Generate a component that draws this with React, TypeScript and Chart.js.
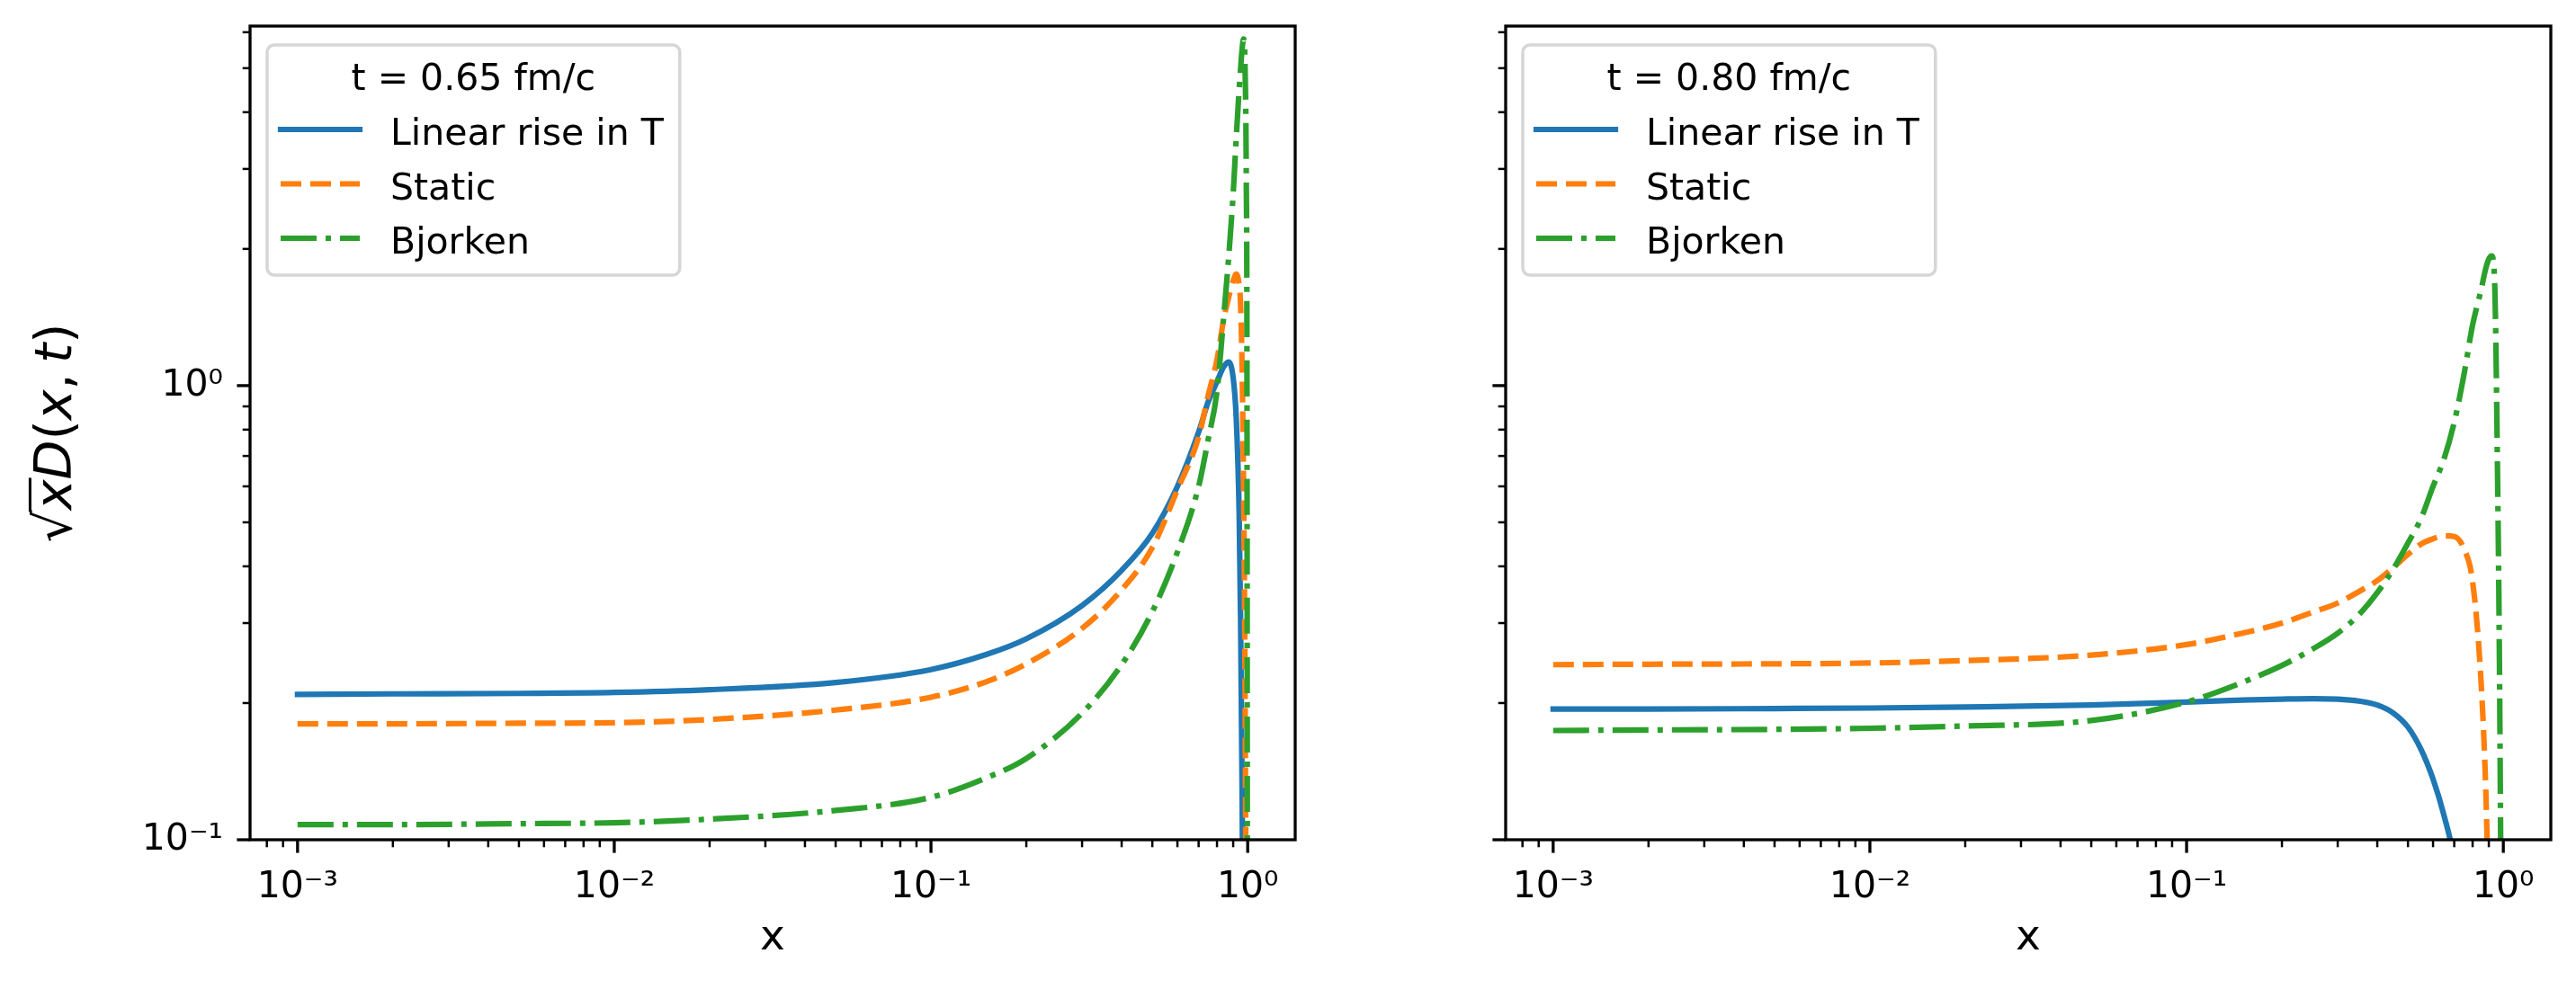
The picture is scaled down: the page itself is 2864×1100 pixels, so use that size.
import React, { useEffect, useRef } from "react";
import Chart from "chart.js/auto";

Chart.defaults.font.family = "'DejaVu Sans', sans-serif";
Chart.defaults.color = "#000";

// ---- data ----
const seriesLabels = ["Linear rise in T", "Static", "Bjorken"];
const legendTitles = ["t = 0.65 fm/c", "t = 0.80 fm/c"];

const xLeft = [0.001, 0.002, 0.005, 0.01, 0.02, 0.05, 0.1, 0.15, 0.2, 0.3, 0.4, 0.5, 0.6, 0.7, 0.75, 0.8, 0.84, 0.87, 0.9, 0.92, 0.94, 0.95, 0.96, 0.97, 0.98, 0.99, 0.995, 0.998];
const linearLeft = [0.209, 0.2095, 0.21, 0.211, 0.214, 0.222, 0.237, 0.256, 0.277, 0.328, 0.392, 0.473, 0.6, 0.79, 0.92, 1.02, 1.1, 1.127, 1.04, 0.85, 0.52, 0.3, 0.13, 0.04, null, null, null, null];
const staticLeft = [0.18, 0.18, 0.1805, 0.181, 0.184, 0.193, 0.206, 0.223, 0.244, 0.292, 0.355, 0.44, 0.59, 0.77, 0.95, 1.14, 1.4, 1.56, 1.7, 1.76, 1.66, 1.5, 1.1, 0.62, 0.25, 0.05, null, null];
const bjorkenLeft = [0.108, 0.108, 0.1085, 0.109, 0.111, 0.116, 0.124, 0.137, 0.151, 0.19, 0.243, 0.318, 0.43, 0.6, 0.76, 0.97, 1.42, 1.9, 2.65, 3.5, 4.5, 5.0, 5.5, 5.8, 5.2, 2.8, 1.0, 0.05];

const xRight = [0.001, 0.002, 0.005, 0.01, 0.02, 0.05, 0.1, 0.15, 0.2, 0.25, 0.3, 0.35, 0.4, 0.45, 0.5, 0.55, 0.6, 0.65, 0.7, 0.75, 0.8, 0.85, 0.88, 0.9, 0.92, 0.94, 0.96, 0.97, 0.98, 0.99];
const linearRight = [0.194, 0.194, 0.1945, 0.195, 0.196, 0.198, 0.201, 0.203, 0.204, 0.2045, 0.204, 0.202, 0.198, 0.19, 0.177, 0.158, 0.136, 0.113, 0.09, 0.06, null, null, null, null, null, null, null, null, null, null];
const staticRight = [0.243, 0.2435, 0.244, 0.245, 0.248, 0.255, 0.269, 0.285, 0.3, 0.317, 0.332, 0.352, 0.372, 0.398, 0.425, 0.448, 0.46, 0.467, 0.465, 0.438, 0.37, 0.225, 0.13, 0.07, null, null, null, null, null, null];
const bjorkenRight = [0.174, 0.1745, 0.175, 0.176, 0.178, 0.183, 0.201, 0.222, 0.242, 0.263, 0.285, 0.313, 0.35, 0.395, 0.45, 0.51, 0.6, 0.69, 0.83, 1.05, 1.36, 1.62, 1.81, 1.9, 1.93, 1.65, 0.6, 0.3, 0.11, 0.03];

const xTickValues = [0.001, 0.01, 0.1, 1];
const xTickLabels = ["10⁻³", "10⁻²", "10⁻¹", "10⁰"];
const yTickValues = [0.1, 1];
const yTickLabels = ["10⁻¹", "10⁰"];

const colors = ["#1f77b4", "#ff7f0e", "#2ca02c"];
const dashes = [[], [23, 10], [40, 10, 6, 10]];

const X_MIN = Math.pow(10, -3.15);
const X_MAX = Math.pow(10, 0.15);
const Y_MIN = 0.1;
const Y_MAX = 6.19;

const logTicks = (min: number, max: number) => {
  const out: any[] = [];
  for (let e = Math.floor(Math.log10(min)); e <= Math.ceil(Math.log10(max)); e++) {
    for (let m = 1; m < 10; m++) {
      const v = m * Math.pow(10, e);
      if (v >= min * 0.9999 && v <= max * 1.0001) out.push({ value: v, major: m === 1 });
    }
  }
  return out;
};

const labelFor = (value: number, vals: number[], labels: string[]) => {
  const i = vals.findIndex((v) => Math.abs(Math.log10(v) - Math.log10(value)) < 1e-6);
  return i >= 0 ? labels[i] : "";
};

// spines and matplotlib-like major/minor ticks
const mplFrame = {
  id: "mplFrame",
  afterDraw(chart: any) {
    const { ctx, chartArea: a, scales } = chart;
    ctx.save();
    ctx.strokeStyle = "#000";
    for (const t of scales.x.ticks) {
      const px = scales.x.getPixelForValue(t.value);
      ctx.lineWidth = t.major ? 3.3 : 2.5;
      ctx.beginPath();
      ctx.moveTo(px, a.bottom);
      ctx.lineTo(px, a.bottom + (t.major ? 14.6 : 8.3));
      ctx.stroke();
    }
    for (const t of scales.y.ticks) {
      const py = scales.y.getPixelForValue(t.value);
      ctx.lineWidth = t.major ? 3.3 : 2.5;
      ctx.beginPath();
      ctx.moveTo(a.left, py);
      ctx.lineTo(a.left - (t.major ? 14.6 : 8.3), py);
      ctx.stroke();
    }
    ctx.lineWidth = 3.3;
    ctx.strokeRect(a.left, a.top, a.right - a.left, a.bottom - a.top);
    ctx.restore();
  },
};

const mplLegend = {
  id: "mplLegend",
  afterDraw(chart: any, _args: any, opts: any) {
    const { ctx, chartArea: a } = chart;
    const fs = 41;
    ctx.save();
    ctx.font = `${fs}px 'DejaVu Sans'`;
    const items = chart.data.datasets;
    const textW = Math.max(...items.map((d: any) => ctx.measureText(d.label).width));
    const titleW = ctx.measureText(opts.title).width;
    const left = a.left + 19;
    const top = a.top + 21;
    const w = Math.max(137 + textW + 18, titleW + 36);
    const h = 256;
    ctx.beginPath();
    ctx.roundRect(left, top, w, h, 8);
    ctx.fillStyle = "rgba(255,255,255,0.8)";
    ctx.fill();
    ctx.lineWidth = 3.5;
    ctx.strokeStyle = "rgba(204,204,204,0.8)";
    ctx.stroke();

    ctx.fillStyle = "#000";
    ctx.textBaseline = "alphabetic";
    ctx.textAlign = "center";
    ctx.fillText(opts.title, left + w / 2, top + 50);
    items.forEach((d: any, i: number) => {
      const base = top + 111 + i * 60.5;
      const ly = base - 17;
      ctx.save();
      ctx.strokeStyle = d.borderColor;
      ctx.lineWidth = d.borderWidth;
      ctx.setLineDash(d.borderDash || []);
      ctx.lineCap = d.borderDash && d.borderDash.length ? "butt" : "square";
      ctx.beginPath();
      ctx.moveTo(left + 15, ly);
      ctx.lineTo(left + 103, ly);
      ctx.stroke();
      ctx.restore();
      ctx.textAlign = "left";
      ctx.fillText(d.label, left + 137, base);
    });
    ctx.restore();
  },
};

// sqrt(x) D(x, t) label, drawn piece by piece for the italics and the radical bar
const mplYLabel = {
  id: "mplYLabel",
  afterDraw(chart: any, _args: any, opts: any) {
    if (!opts.show) return;
    const { ctx, chartArea: a } = chart;
    const fs = 57;
    const parts: [string, boolean][] = [["√", false], ["x", true], ["D", true], ["(", false], ["x", true], [",", false], ["\u2009", false], ["t", true], [")", false]];
    const fontOf = (it: boolean) => `${it ? "italic " : ""}${fs}px 'DejaVu Sans'`;
    ctx.save();
    ctx.translate(79, (a.top + a.bottom) / 2);
    ctx.rotate(-Math.PI / 2);
    ctx.fillStyle = "#000";
    ctx.strokeStyle = "#000";
    ctx.textBaseline = "alphabetic";
    ctx.textAlign = "left";
    const widths = parts.map(([t, it]) => {
      ctx.font = fontOf(it);
      return ctx.measureText(t).width;
    });
    const total = widths.reduce((s, v) => s + v, 0);
    let x = -total / 2;
    parts.forEach(([t, it], i) => {
      ctx.font = fontOf(it);
      ctx.fillText(t, x, 0);
      if (i === 1) {
        ctx.lineWidth = 3;
        ctx.beginPath();
        ctx.moveTo(x - 2, -0.8 * fs);
        ctx.lineTo(x + widths[i] + 2, -0.8 * fs);
        ctx.stroke();
      }
      x += widths[i];
    });
    ctx.restore();
  },
};

const makeConfig = (xs: number[], ys: (number | null)[][], title: string, yWidth: number, padRight: number, first: boolean): any => ({
  type: "line",
  data: {
    datasets: ys.map((vals, k) => ({
      label: seriesLabels[k],
      data: xs.map((x, i) => ({ x, y: vals[i] })),
      borderColor: colors[k],
      borderWidth: 6.2,
      borderDash: dashes[k],
      borderCapStyle: dashes[k].length ? "butt" : "square",
      borderJoinStyle: "round",
      pointRadius: 0,
      fill: false,
      cubicInterpolationMode: "monotone",
      clip: 0,
      order: 3 - k,
    })),
  },
  options: {
    animation: false,
    responsive: true,
    maintainAspectRatio: false,
    layout: { padding: { top: 29, right: padRight, left: 0, bottom: 0 } },
    plugins: {
      legend: { display: false },
      tooltip: { enabled: false },
      mplLegend: { title },
      mplYLabel: { show: first },
    },
    scales: {
      x: {
        type: "logarithmic",
        min: X_MIN,
        max: X_MAX,
        bounds: "data",
        afterBuildTicks: (s: any) => {
          s.ticks = logTicks(X_MIN, X_MAX);
        },
        afterFit: (s: any) => {
          s.height = 166;
          s.paddingLeft = 0;
          s.paddingRight = 0;
        },
        grid: { display: true, drawOnChartArea: false, drawTicks: true, tickLength: 15, color: "rgba(0,0,0,0)" },
        border: { display: false },
        ticks: {
          autoSkip: false,
          maxRotation: 0,
          minRotation: 0,
          padding: 14,
          color: "#000",
          font: { size: 41 },
          callback: (v: number, i: number, t: any[]) => (t[i].major ? labelFor(v, xTickValues, xTickLabels) : ""),
        },
        title: { display: true, text: "x", color: "#000", font: { size: 47 }, padding: { top: 0, bottom: 28 } },
      },
      y: {
        type: "logarithmic",
        min: Y_MIN,
        max: Y_MAX,
        bounds: "data",
        afterBuildTicks: (s: any) => {
          s.ticks = logTicks(Y_MIN, Y_MAX);
        },
        afterFit: (s: any) => {
          s.width = yWidth;
          s.paddingTop = 0;
          s.paddingBottom = 0;
        },
        grid: { display: true, drawOnChartArea: false, drawTicks: true, tickLength: 15, color: "rgba(0,0,0,0)" },
        border: { display: false },
        ticks: {
          autoSkip: false,
          padding: 15,
          color: "#000",
          font: { size: 41 },
          callback: (v: number, i: number, t: any[]) => (first && t[i].major ? labelFor(v, yTickValues, yTickLabels) : ""),
        },
      },
    },
  },
  plugins: [mplFrame, mplLegend, mplYLabel],
});

export default function App() {
  const leftRef = useRef<HTMLCanvasElement>(null);
  const rightRef = useRef<HTMLCanvasElement>(null);

  useEffect(() => {
    const left = new Chart(leftRef.current as any, makeConfig(xLeft, [linearLeft, staticLeft, bjorkenLeft], legendTitles[0], 278, 20, true));
    const right = new Chart(rightRef.current as any, makeConfig(xRight, [linearRight, staticRight, bjorkenRight], legendTitles[1], 214, 28, false));
    return () => {
      left.destroy();
      right.destroy();
    };
  }, []);

  return (
    <div style={{ position: "absolute", left: 0, top: 0, width: 2864, height: 1100, background: "#fff" }}>
      <div style={{ position: "absolute", left: 0, top: 0, width: 1460, height: 1100 }}>
        <canvas ref={leftRef} />
      </div>
      <div style={{ position: "absolute", left: 1460, top: 0, width: 1404, height: 1100 }}>
        <canvas ref={rightRef} />
      </div>
    </div>
  );
}
